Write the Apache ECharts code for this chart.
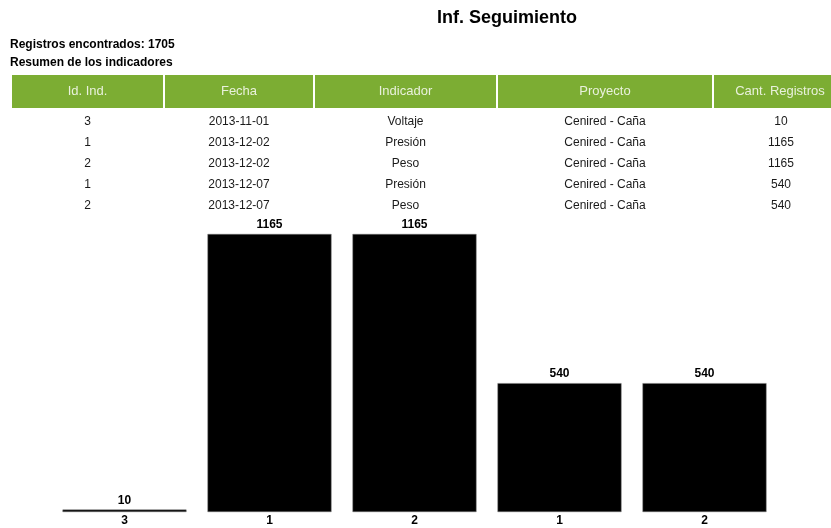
<!DOCTYPE html>
<html>
<head>
<meta charset="utf-8">
<script src="https://cdn.jsdelivr.net/npm/echarts@6/dist/echarts.min.js"></script>
<style>
  html, body { margin: 0; padding: 0; background: #fff; }
  #main { width: 831px; height: 528px; }
</style>
</head>
<body>
<div id="main"></div>
<script type="text/javascript">
    // datos del resumen
    var headers = ['Id. Ind.', 'Fecha', 'Indicador', 'Proyecto', 'Cant. Registros'];
    var idInd = ['3', '1', '2', '1', '2'];
    var fechas = ['2013-11-01', '2013-12-02', '2013-12-02', '2013-12-07', '2013-12-07'];
    var indicadores = ['Voltaje', 'Presión', 'Peso', 'Presión', 'Peso'];
    var proyectos = ['Cenired - Caña', 'Cenired - Caña', 'Cenired - Caña', 'Cenired - Caña', 'Cenired - Caña'];
    var cantidades = [10, 1165, 1165, 540, 540];
    var totalRegistros = 1705;

    var FONT = "'Liberation Sans', Arial, sans-serif";

    // columnas de la tabla: x inicial y ancho
    var cols = [[12, 151], [165, 148], [315, 181], [498, 214], [714, 132]];
    var headerTop = 75, headerH = 33, rowTop = 111, rowH = 21;

    var graphics = [];
    graphics.push({ type: 'text', x: 10, y: 45,
        style: { text: 'Registros encontrados: ' + totalRegistros, verticalAlign: 'middle', fontFamily: FONT, fontWeight: 'bold', fontSize: 12, fill: '#000' } });
    graphics.push({ type: 'text', x: 10, y: 63,
        style: { text: 'Resumen de los indicadores', verticalAlign: 'middle', fontFamily: FONT, fontWeight: 'bold', fontSize: 12, fill: '#000' } });

    headers.forEach(function (h, i) {
        graphics.push({ type: 'rect', shape: { x: cols[i][0], y: headerTop, width: cols[i][1], height: headerH },
            style: { fill: '#7cad33' }, silent: true });
        var cx = cols[i][0] + cols[i][1] / 2;
        if (i == 4) cx = 780;
        graphics.push({ type: 'text', x: cx, y: headerTop + headerH / 2,
            style: { text: h, align: 'center', verticalAlign: 'middle', fontFamily: FONT, fontSize: 13, fill: '#e9f1dc' } });
    });

    var rows = [];
    for (var r = 0; r < idInd.length; r++) {
        rows.push([idInd[r], fechas[r], indicadores[r], proyectos[r], String(cantidades[r])]);
    }
    rows.forEach(function (row, r) {
        row.forEach(function (cell, i) {
            var cx = cols[i][0] + cols[i][1] / 2;
            if (i == 4) cx = 781;
            graphics.push({ type: 'text', x: cx, y: rowTop + r * rowH + rowH / 2,
                style: { text: cell, align: 'center', verticalAlign: 'middle', fontFamily: FONT, fontSize: 12, fill: '#1a1a1a' } });
        });
    });

    var option = {
        animation: false,
        title: {
            text: 'Inf. Seguimiento',
            left: 502, top: 4, textAlign: 'center',
            textStyle: { fontFamily: FONT, fontWeight: 'bold', fontSize: 18, color: '#000' }
        },
        graphic: graphics,
        grid: { left: 52, top: 234, width: 725, height: 278 },
        xAxis: {
            type: 'category',
            data: idInd,
            axisLine: { show: false },
            axisTick: { show: false },
            axisLabel: { margin: 3, fontFamily: FONT, fontWeight: 'bold', fontSize: 12, color: '#000' }
        },
        yAxis: { type: 'value', min: 0, max: 1165, show: false },
        series: [{
            type: 'bar',
            data: cantidades,
            barWidth: 124,
            itemStyle: { color: '#000', borderColor: '#777', borderWidth: 0.5 },
            label: { show: true, position: 'top', distance: 3, fontFamily: FONT, fontWeight: 'bold', fontSize: 12, color: '#000' }
        }]
    };

    var chart = echarts.init(document.getElementById('main'));
    chart.setOption(option);
</script>
</body>
</html>
